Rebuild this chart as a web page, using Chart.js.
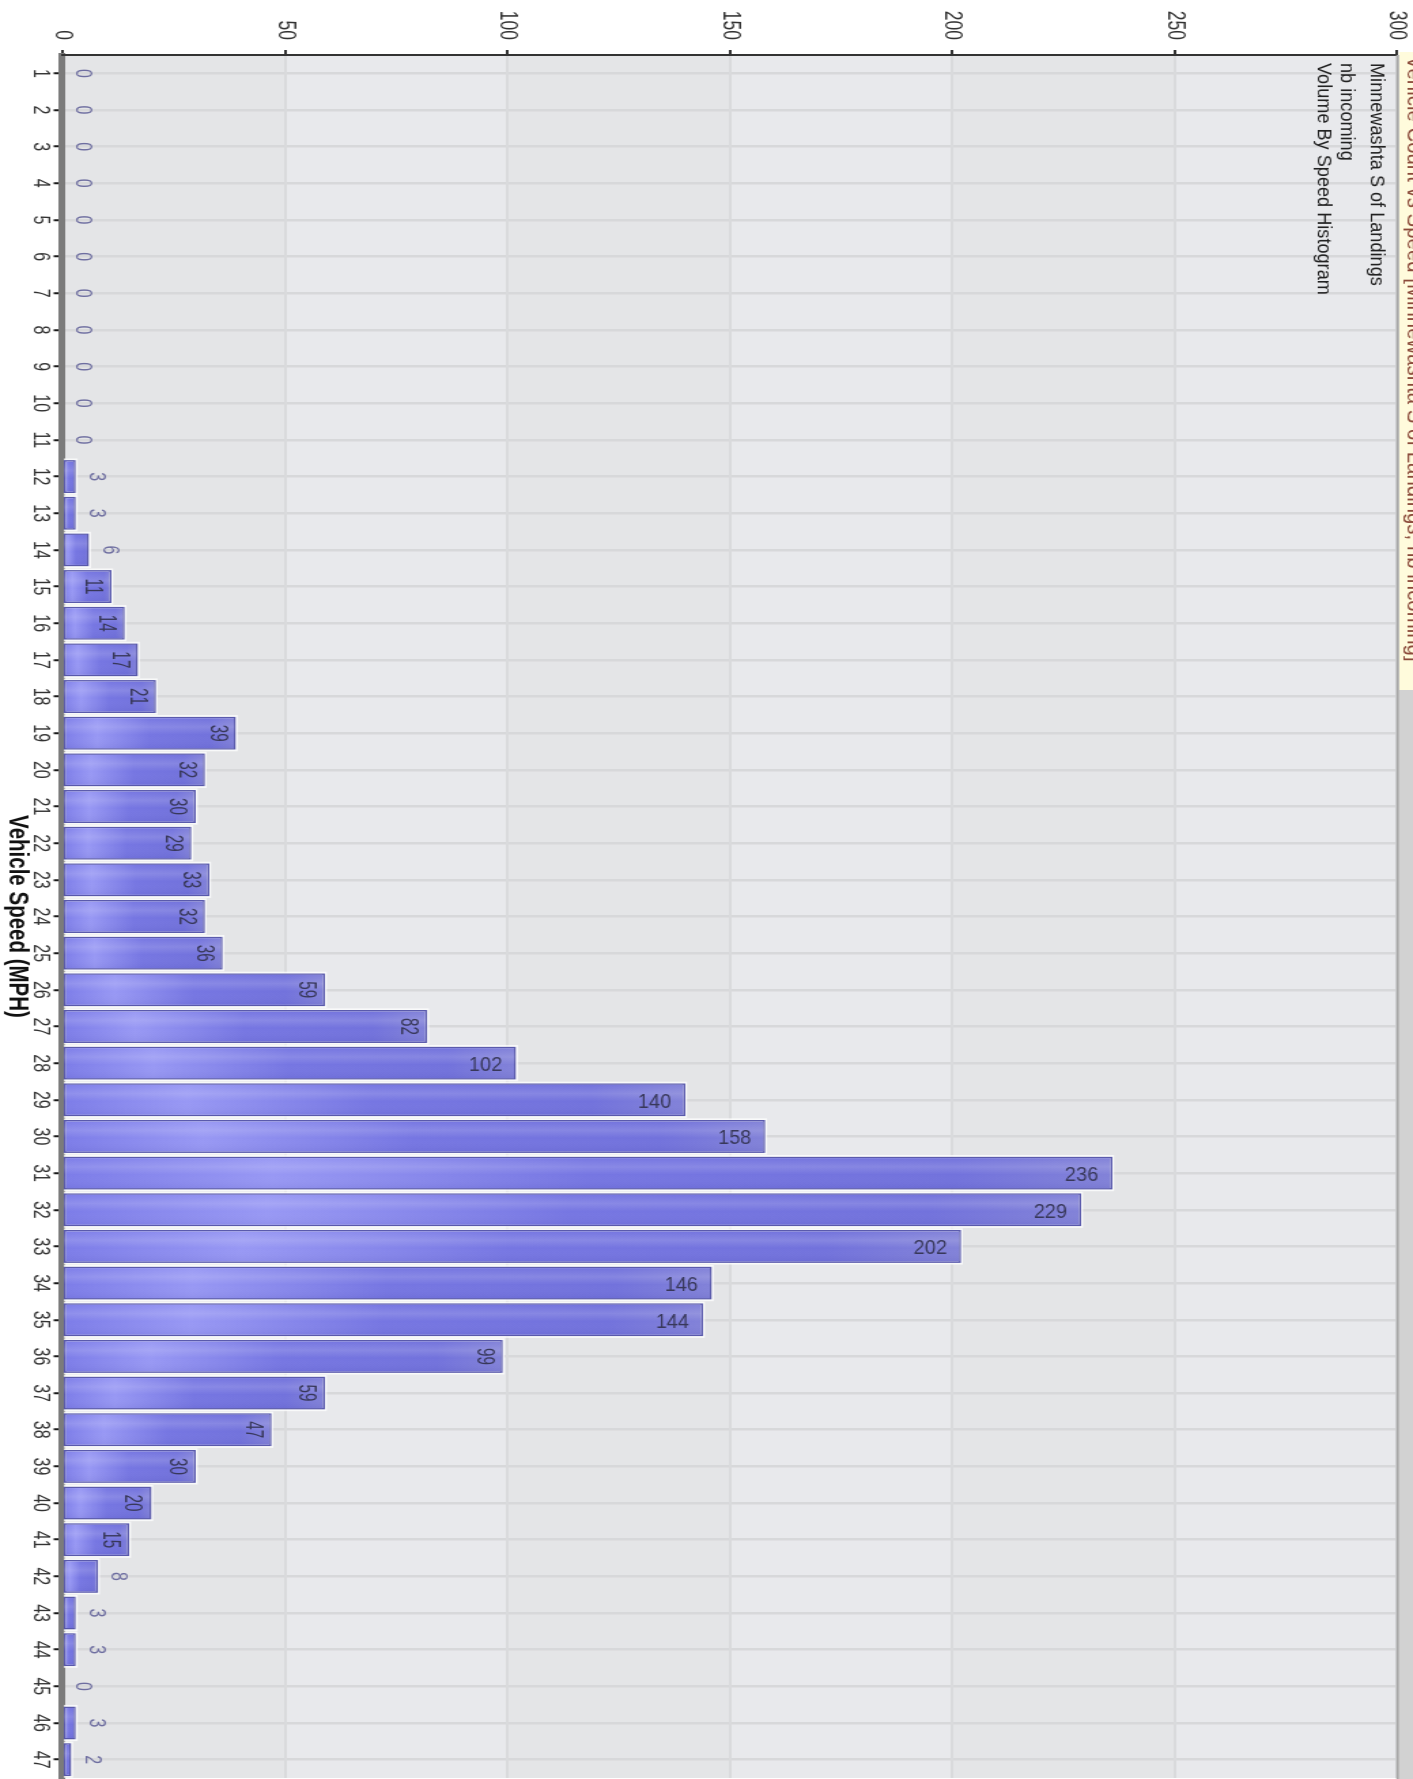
<!DOCTYPE html>
<html><head><meta charset="utf-8">
<script src="https://cdn.jsdelivr.net/npm/chart.js@4.4.0/dist/chart.umd.min.js"></script>
<style>
html,body{margin:0;padding:0;background:#fff;overflow:hidden;width:1413px;height:1779px}
#wrap{position:absolute;left:0;top:0;width:1779px;height:1039px;transform-origin:0 0;transform:translate(1413px,0) rotate(90deg) scale(1,1.36);}
canvas{display:block}
</style></head><body>
<div id="wrap"><canvas id="c" width="1779" height="1039"></canvas></div>
<script>
const speeds = ['1','2','3','4','5','6','7','8','9','10','11','12','13','14','15','16','17','18','19','20','21','22','23','24','25','26','27','28','29','30','31','32','33','34','35','36','37','38','39','40','41','42','43','44','45','46','47'];
const counts = [0,0,0,0,0,0,0,0,0,0,0,3,3,6,11,14,17,21,39,32,30,29,33,32,36,59,82,102,140,158,236,229,202,146,144,99,59,47,30,20,15,8,3,3,0,3,2];
const valueTicks = [0,50,100,150,200,250,300];
const titleLines = ['Minnewashta S of Landings','nb incoming','Volume By Speed Histogram'];
const axisTitle = 'Vehicle Speed (MPH)';
const bannerText = 'Vehicle Count vs Speed [Minnewashta S of Landings, nb incoming]';

const S = 1413/1039;
const FONT = '"Liberation Sans", Arial, sans-serif';

const bgPlugin = {
  id: 'bg',
  beforeDraw(chart) {
    const {ctx, chartArea: a, scales: {y}} = chart;
    ctx.save();
    for (let i = 0; i < valueTicks.length - 1; i++) {
      const y0 = y.getPixelForValue(valueTicks[i]);
      const y1 = y.getPixelForValue(valueTicks[i+1]);
      ctx.fillStyle = (i % 2 === 0) ? '#e4e5e7' : '#e8e9ec';
      ctx.fillRect(a.left, y1, a.right - a.left, y0 - y1);
    }
    ctx.restore();
  },
  beforeDatasetsDraw(chart) {
    const ctx = chart.ctx;
    const meta = chart.getDatasetMeta(0);
    ctx.save();
    ctx.fillStyle = 'rgba(255,255,255,0.75)';
    meta.data.forEach((bar, i) => {
      if (!counts[i]) return;
      const w = bar.width;
      ctx.fillRect(bar.x - w/2 - 1.6, bar.y - 1.3, w + 3.2, bar.base - bar.y + 1.3);
    });
    ctx.restore();
  },
  afterDatasetsDraw(chart) {
    const ctx = chart.ctx;
    const meta = chart.getDatasetMeta(0);
    meta.data.forEach((bar, i) => {
      if (!counts[i]) return;
      const w = bar.width;
      const x0 = bar.x - w/2 + 1, x1 = bar.x + w/2 - 1;
      const g = ctx.createLinearGradient(x0, 0, x1, 0);
      g.addColorStop(0, 'rgba(255,255,255,0)');
      g.addColorStop(0.3, 'rgba(255,255,255,0.14)');
      g.addColorStop(0.55, 'rgba(255,255,255,0)');
      g.addColorStop(1, 'rgba(20,20,110,0.07)');
      ctx.save();
      ctx.fillStyle = g;
      ctx.fillRect(x0, bar.y + 1, x1 - x0, bar.base - bar.y - 1);
      ctx.restore();
    });
    meta.data.forEach((bar, i) => {
      const v = counts[i];
      ctx.save();
      if (v >= 100) {
        ctx.translate(bar.x + 2.5, bar.y + 14 / S);
        ctx.rotate(-Math.PI / 2);
        ctx.scale(1 / S, 1);
        ctx.font = '20px ' + FONT;
        ctx.fillStyle = '#38385a';
        ctx.textAlign = 'right';
        ctx.textBaseline = 'middle';
        ctx.fillText(String(v), 0, 0);
      } else if (v >= 10) {
        ctx.translate(bar.x, bar.y + 19);
        ctx.scale(0.85, 1);
        ctx.font = '18px ' + FONT;
        ctx.fillStyle = '#38385a';
        ctx.textAlign = 'center';
        ctx.textBaseline = 'alphabetic';
        ctx.fillText(String(v), 0, 0);
      } else {
        ctx.font = '16px ' + FONT;
        ctx.fillStyle = '#6e6ea0';
        ctx.textAlign = 'center';
        ctx.textBaseline = 'alphabetic';
        ctx.fillText(String(v), bar.x, bar.y - 10);
      }
      ctx.restore();
    });
  },
  afterDraw(chart) {
    const {ctx, chartArea: a} = chart;
    const stripH = a.top - 1.5;
    ctx.save();
    ctx.fillStyle = '#fffbdc';
    ctx.fillRect(52, 0, 690 - 52, stripH);
    ctx.fillStyle = '#d2d2d2';
    ctx.fillRect(690, 0, chart.width - 690, stripH);
    ctx.beginPath();
    ctx.rect(52, 0, 690 - 52, stripH);
    ctx.clip();
    ctx.fillStyle = '#8b4a3a';
    ctx.font = '17px ' + FONT;
    ctx.textBaseline = 'alphabetic';
    ctx.translate(56, 4);
    ctx.scale(1.2, 1);
    ctx.fillText(bannerText, 0, 0);
    ctx.restore();
    ctx.save();
    ctx.strokeStyle = '#a6a6a6';
    ctx.lineWidth = 2;
    ctx.beginPath();
    ctx.moveTo(a.left, a.top - 0.5);
    ctx.lineTo(chart.width, a.top - 0.5);
    ctx.stroke();
    const baselines = [31, 52.5, 70];
    ctx.fillStyle = '#222';
    ctx.font = '15.5px ' + FONT;
    titleLines.forEach((t, k) => {
      ctx.save();
      ctx.translate(63, baselines[k]);
      ctx.scale(1.17, 1);
      ctx.fillText(t, 0, 0);
      ctx.restore();
    });
    ctx.restore();
  }
};

new Chart(document.getElementById('c'), {
  type: 'bar',
  data: {
    labels: speeds,
    datasets: [{
      data: counts,
      barPercentage: 0.9,
      categoryPercentage: 1.0,
      borderSkipped: false,
      borderWidth: c => (counts[c.dataIndex] ? 1.5 : 0),
      borderColor: '#5a5aac',
      backgroundColor: c => {
        const chart = c.chart;
        if (!chart.chartArea) return '#7d7de8';
        const y = chart.scales.y;
        const v = counts[c.dataIndex] || 0;
        const y0 = y.getPixelForValue(0), y1 = y.getPixelForValue(v) - 0.01;
        const g = chart.ctx.createLinearGradient(0, y0, 0, y1);
        g.addColorStop(0, '#7c7ce8');
        g.addColorStop(0.2, '#9898f4');
        g.addColorStop(0.5, '#7676e2');
        g.addColorStop(0.85, '#7272dc');
        g.addColorStop(1, '#8282d8');
        return g;
      }
    }]
  },
  options: {
    responsive: false,
    animation: false,
    devicePixelRatio: 1,
    layout: { padding: { top: 16 / S, right: 1, left: 0, bottom: 0 } },
    plugins: { legend: { display: false }, tooltip: { enabled: false }, title: { display: false } },
    scales: {
      x: {
        type: 'category',
        grid: { offset: false, color: '#d7d8da', lineWidth: 2.5, tickColor: '#1a1a1a', tickLength: 6.5, tickWidth: 2 },
        border: { color: '#7b7b7b', width: 5 },
        ticks: { font: { family: FONT, size: 16 }, color: '#333', padding: 0, maxRotation: 0, minRotation: 0, autoSkip: false },
        title: { display: true, text: axisTitle, font: { family: FONT, size: 20.5, weight: 'bold' }, color: '#111', padding: { top: 0, bottom: 0 } },
        afterFit: s => { s.height = 46; }
      },
      y: {
        min: 0, max: 300,
        afterBuildTicks: s => { s.ticks = valueTicks.map(v => ({ value: v })); },
        ticks: { font: { family: FONT, size: 17.5 }, color: '#333', padding: 0 },
        grid: { color: '#d9dadc', lineWidth: 2, tickLength: 15, tickColor: '#333', tickBorderDash: [0, 10, 5, 100] },
        border: { color: '#333', width: 2 },
        afterFit: s => { s.width = 55; }
      }
    }
  },
  plugins: [bgPlugin]
});
</script>
</body></html>
